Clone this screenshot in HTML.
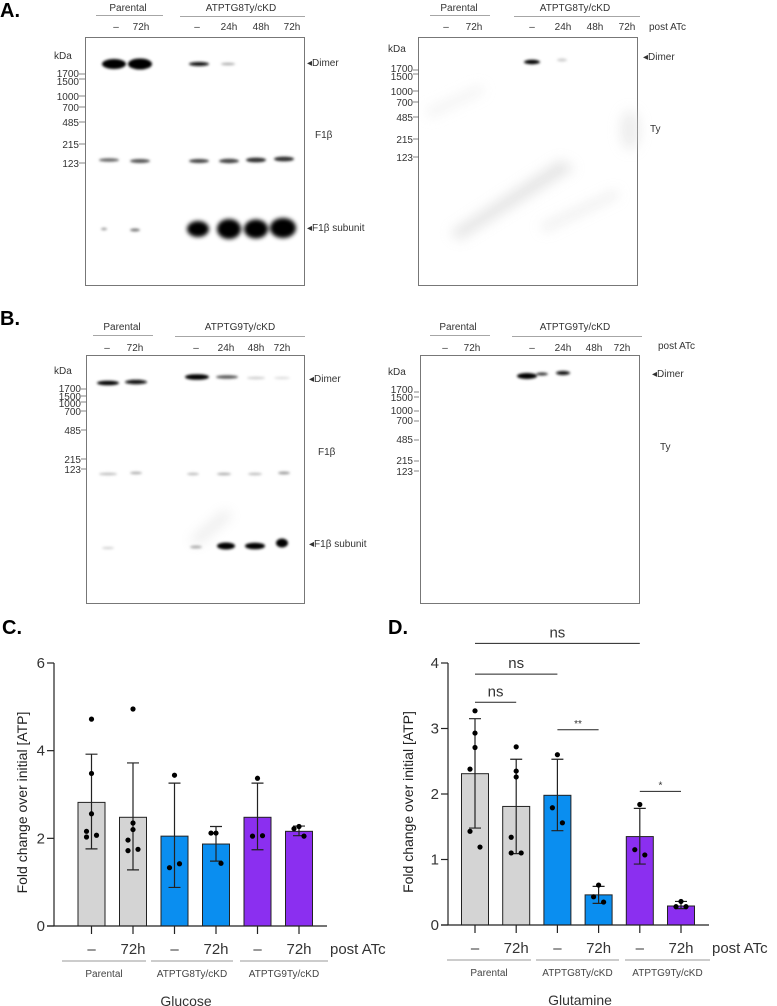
<!DOCTYPE html>
<html><head><meta charset="utf-8">
<style>
html,body{margin:0;padding:0;background:#fff;}
svg{display:block;font-family:"Liberation Sans",Arial,sans-serif;}
.t{font-size:10px;fill:#333;}
.k{font-size:10px;fill:#333;text-anchor:end;}
.pl{font-size:20px;font-weight:bold;fill:#000;}
</style></head>
<body>
<svg id="fig" width="777" height="1006" viewBox="0 0 777 1006" xmlns="http://www.w3.org/2000/svg">
<defs>
<filter id="b1" x="-50%" y="-100%" width="200%" height="300%"><feGaussianBlur stdDeviation="1.2"/></filter>
<filter id="b2" x="-50%" y="-100%" width="200%" height="300%"><feGaussianBlur stdDeviation="2"/></filter>
<filter id="b6" x="-50%" y="-50%" width="200%" height="200%"><feGaussianBlur stdDeviation="6"/></filter>
</defs>

<!-- Panel labels -->
<text class="pl" x="0" y="17">A.</text>
<text class="pl" x="0" y="325">B.</text>
<text class="pl" x="2" y="634">C.</text>
<text class="pl" x="388" y="634">D.</text>

<!-- ===== Panel A left blot ===== -->
<g>
<text class="t" x="128" y="11" text-anchor="middle">Parental</text>
<line x1="96" y1="15.5" x2="163" y2="15.5" stroke="#888" stroke-width="0.8"/>
<text class="t" x="241" y="11" text-anchor="middle">ATPTG8Ty/cKD</text>
<line x1="180" y1="16.5" x2="305" y2="16.5" stroke="#888" stroke-width="0.8"/>
<g class="t" text-anchor="middle"><text x="116" y="30">–</text><text x="141" y="30">72h</text><text x="197" y="30">–</text><text x="229" y="30">24h</text><text x="261" y="30">48h</text><text x="292" y="30">72h</text></g>
<rect x="85.5" y="37.5" width="219" height="248" fill="#fff" stroke="#777" stroke-width="1"/>
<text class="t" x="54" y="59">kDa</text>
<g class="k"><text x="79" y="77">1700</text><text x="79" y="85">1500</text><text x="79" y="100">1000</text><text x="79" y="111">700</text><text x="79" y="126">485</text><text x="79" y="148">215</text><text x="79" y="167">123</text></g>
<g stroke="#666" stroke-width="0.8"><line x1="79" y1="74" x2="85" y2="74"/><line x1="79" y1="79" x2="85" y2="79"/><line x1="79" y1="96" x2="85" y2="96"/><line x1="79" y1="107" x2="85" y2="107"/><line x1="79" y1="122" x2="85" y2="122"/><line x1="79" y1="144" x2="85" y2="144"/><line x1="79" y1="163" x2="85" y2="163"/></g>
<g filter="url(#b1)">
<ellipse cx="114" cy="64" rx="12" ry="5" fill="#000"/>
<ellipse cx="140" cy="64" rx="12" ry="5.5" fill="#000"/>
<ellipse cx="199" cy="64" rx="10" ry="2" fill="#111"/>
<ellipse cx="228" cy="64" rx="7" ry="1.3" fill="#aaa"/>
<ellipse cx="109" cy="160" rx="10" ry="1.8" fill="#666"/>
<ellipse cx="140" cy="161" rx="10" ry="2" fill="#555"/>
<ellipse cx="199" cy="161" rx="10" ry="2" fill="#444"/>
<ellipse cx="229" cy="161" rx="10" ry="2.2" fill="#444"/>
<ellipse cx="256" cy="160" rx="10" ry="2.4" fill="#333"/>
<ellipse cx="284" cy="159" rx="10" ry="2.4" fill="#333"/>
<ellipse cx="104" cy="229" rx="3" ry="1.2" fill="#999"/>
<ellipse cx="135" cy="230" rx="5" ry="1.5" fill="#777"/>
</g>
<g filter="url(#b2)">
<ellipse cx="198" cy="229" rx="11" ry="8" fill="#000"/>
<ellipse cx="229" cy="229" rx="12" ry="10" fill="#000"/>
<ellipse cx="256" cy="229" rx="12" ry="9.5" fill="#000"/>
<ellipse cx="283" cy="228" rx="13" ry="10" fill="#000"/>
</g>
<text class="t" x="307" y="66" font-size="11">◂Dimer</text>
<text class="t" x="315" y="138" font-size="11">F1β</text>
<text class="t" x="307" y="231" font-size="11">◂F1β subunit</text>
</g>

<!-- ===== Panel A right blot ===== -->
<g>
<text class="t" x="459" y="11" text-anchor="middle">Parental</text>
<line x1="430" y1="15.5" x2="490" y2="15.5" stroke="#888" stroke-width="0.8"/>
<text class="t" x="575" y="11" text-anchor="middle">ATPTG8Ty/cKD</text>
<line x1="514" y1="16.5" x2="640" y2="16.5" stroke="#888" stroke-width="0.8"/>
<g class="t" text-anchor="middle"><text x="446" y="30">–</text><text x="474" y="30">72h</text><text x="532" y="30">–</text><text x="563" y="30">24h</text><text x="595" y="30">48h</text><text x="627" y="30">72h</text></g>
<text class="t" x="649" y="30">post ATc</text>
<rect x="418.5" y="37.5" width="219" height="248" fill="#fff" stroke="#777" stroke-width="1"/>
<g filter="url(#b6)" opacity="0.5">
<path d="M450 232 L560 160 L575 168 L460 240 Z" fill="#ccc"/>
<path d="M540 225 L615 190 L620 196 L545 232 Z" fill="#ddd"/>
<path d="M425 110 L480 85 L485 92 L430 118 Z" fill="#e6e6e6"/>
<ellipse cx="630" cy="130" rx="10" ry="20" fill="#ddd"/>
</g>
<text class="t" x="388" y="52">kDa</text>
<g class="k"><text x="413" y="72">1700</text><text x="413" y="80">1500</text><text x="413" y="95">1000</text><text x="413" y="106">700</text><text x="413" y="121">485</text><text x="413" y="143">215</text><text x="413" y="161">123</text></g>
<g stroke="#666" stroke-width="0.8"><line x1="413" y1="70" x2="419" y2="70"/><line x1="413" y1="74" x2="419" y2="74"/><line x1="413" y1="91" x2="419" y2="91"/><line x1="413" y1="102" x2="419" y2="102"/><line x1="413" y1="117" x2="419" y2="117"/><line x1="413" y1="139" x2="419" y2="139"/><line x1="413" y1="157" x2="419" y2="157"/></g>
<g filter="url(#b1)"><ellipse cx="532" cy="62" rx="8" ry="2.2" fill="#000"/><ellipse cx="562" cy="60" rx="5" ry="1.5" fill="#ccc"/></g>
<text class="t" x="643" y="60" font-size="11">◂Dimer</text>
<text class="t" x="650" y="132" font-size="11">Ty</text>
</g>

<!-- ===== Panel B left blot ===== -->
<g>
<text class="t" x="122" y="330" text-anchor="middle">Parental</text>
<line x1="93" y1="335.5" x2="153" y2="335.5" stroke="#888" stroke-width="0.8"/>
<text class="t" x="240" y="330" text-anchor="middle">ATPTG9Ty/cKD</text>
<line x1="175" y1="336.5" x2="305" y2="336.5" stroke="#888" stroke-width="0.8"/>
<g class="t" text-anchor="middle"><text x="107" y="351">–</text><text x="135" y="351">72h</text><text x="196" y="351">–</text><text x="226" y="351">24h</text><text x="256" y="351">48h</text><text x="282" y="351">72h</text></g>
<rect x="86.5" y="355.5" width="218" height="248" fill="#fff" stroke="#777" stroke-width="1"/>
<text class="t" x="54" y="374">kDa</text>
<g class="k"><text x="81" y="392">1700</text><text x="81" y="400">1500</text><text x="81" y="407">1000</text><text x="81" y="415">700</text><text x="81" y="434">485</text><text x="81" y="463">215</text><text x="81" y="473">123</text></g>
<g stroke="#666" stroke-width="0.8"><line x1="81" y1="389" x2="86" y2="389"/><line x1="81" y1="396" x2="86" y2="396"/><line x1="81" y1="402" x2="86" y2="402"/><line x1="81" y1="411" x2="86" y2="411"/><line x1="81" y1="430" x2="86" y2="430"/><line x1="81" y1="459" x2="86" y2="459"/><line x1="81" y1="469" x2="86" y2="469"/></g>
<g filter="url(#b1)">
<ellipse cx="108" cy="383" rx="11" ry="2.3" fill="#000"/>
<ellipse cx="136" cy="382" rx="11" ry="2.2" fill="#111"/>
<ellipse cx="197" cy="377" rx="12" ry="2.8" fill="#000"/>
<ellipse cx="227" cy="377" rx="11" ry="1.8" fill="#555"/>
<ellipse cx="256" cy="378" rx="9" ry="1.2" fill="#ccc"/>
<ellipse cx="282" cy="378" rx="8" ry="1.2" fill="#ddd"/>
<ellipse cx="108" cy="474" rx="9" ry="1.3" fill="#bbb"/>
<ellipse cx="136" cy="473" rx="6" ry="1.3" fill="#aaa"/>
<ellipse cx="193" cy="474" rx="6" ry="1.3" fill="#bbb"/>
<ellipse cx="224" cy="474" rx="7" ry="1.3" fill="#aaa"/>
<ellipse cx="255" cy="474" rx="7" ry="1.2" fill="#bbb"/>
<ellipse cx="284" cy="473" rx="6" ry="1.4" fill="#999"/>
<ellipse cx="108" cy="548" rx="6" ry="1" fill="#ccc"/>
<ellipse cx="196" cy="547" rx="6" ry="1.5" fill="#aaa"/>
</g>
<g filter="url(#b1)">
<ellipse cx="226" cy="546" rx="9" ry="3.5" fill="#000"/>
<ellipse cx="255" cy="546" rx="10" ry="3.3" fill="#000"/>
<ellipse cx="282" cy="543" rx="6" ry="4.5" fill="#000"/>
</g>
<g filter="url(#b6)" opacity="0.4"><path d="M190 540 L225 510 L232 516 L198 545 Z" fill="#ccc"/></g>
<text class="t" x="309" y="382" font-size="11">◂Dimer</text>
<text class="t" x="318" y="455" font-size="11">F1β</text>
<text class="t" x="309" y="547" font-size="11">◂F1β subunit</text>
</g>

<!-- ===== Panel B right blot ===== -->
<g>
<text class="t" x="458" y="330" text-anchor="middle">Parental</text>
<line x1="430" y1="335.5" x2="490" y2="335.5" stroke="#888" stroke-width="0.8"/>
<text class="t" x="575" y="330" text-anchor="middle">ATPTG9Ty/cKD</text>
<line x1="512" y1="336.5" x2="642" y2="336.5" stroke="#888" stroke-width="0.8"/>
<g class="t" text-anchor="middle"><text x="445" y="351">–</text><text x="472" y="351">72h</text><text x="532" y="351">–</text><text x="563" y="351">24h</text><text x="594" y="351">48h</text><text x="622" y="351">72h</text></g>
<text class="t" x="658" y="349">post ATc</text>
<rect x="420.5" y="355.5" width="219" height="248" fill="#fff" stroke="#777" stroke-width="1"/>
<text class="t" x="388" y="375">kDa</text>
<g class="k"><text x="413" y="393">1700</text><text x="413" y="401">1500</text><text x="413" y="414">1000</text><text x="413" y="424">700</text><text x="413" y="443">485</text><text x="413" y="464">215</text><text x="413" y="475">123</text></g>
<g stroke="#666" stroke-width="0.8"><line x1="414" y1="392" x2="419" y2="392"/><line x1="414" y1="397" x2="419" y2="397"/><line x1="414" y1="411" x2="419" y2="411"/><line x1="414" y1="421" x2="419" y2="421"/><line x1="414" y1="440" x2="419" y2="440"/><line x1="414" y1="461" x2="419" y2="461"/><line x1="414" y1="471" x2="419" y2="471"/></g>
<g filter="url(#b1)"><ellipse cx="527" cy="376" rx="10" ry="3" fill="#000"/><ellipse cx="542" cy="374" rx="6" ry="1.5" fill="#333"/><ellipse cx="563" cy="373" rx="7" ry="2" fill="#111"/></g>
<text class="t" x="652" y="377" font-size="11">◂Dimer</text>
<text class="t" x="660" y="450" font-size="11">Ty</text>
</g>

<g id="chartC"></g>
<g id="chartD"></g>
</svg>

<script>
// ---- Panel C data (Glucose) ----
var cCategories = ["Parental –", "Parental 72h", "ATPTG8Ty/cKD –", "ATPTG8Ty/cKD 72h", "ATPTG9Ty/cKD –", "ATPTG9Ty/cKD 72h"];
var cMeans = [2.82, 2.48, 2.05, 1.87, 2.48, 2.16];
var cErrHi = [3.92, 3.72, 3.26, 2.27, 3.26, 2.28];
var cErrLo = [1.76, 1.28, 0.88, 1.48, 1.74, 2.06];
var cPoints = [[4.72, 3.48, 2.56, 2.16, 2.03, 2.07], [4.95, 2.35, 2.2, 1.96, 1.72, 1.75], [3.44, 1.33, 1.42], [2.12, 2.12, 1.43], [3.37, 2.05, 2.06], [2.27, 2.22, 2.05]];
var cTicks = [0, 2, 4, 6];

// ---- Panel D data (Glutamine) ----
var dCategories = ["Parental –", "Parental 72h", "ATPTG8Ty/cKD –", "ATPTG8Ty/cKD 72h", "ATPTG9Ty/cKD –", "ATPTG9Ty/cKD 72h"];
var dMeans = [2.31, 1.81, 1.98, 0.46, 1.35, 0.29];
var dErrHi = [3.15, 2.53, 2.53, 0.59, 1.78, 0.36];
var dErrLo = [1.48, 1.09, 1.44, 0.33, 0.93, 0.25];
var dPoints = [[3.27, 2.93, 2.71, 2.38, 1.43, 1.19], [2.72, 2.35, 2.26, 1.34, 1.1, 1.1], [2.6, 1.79, 1.56], [0.61, 0.43, 0.35], [1.84, 1.15, 1.07], [0.36, 0.28, 0.28]];
var dTicks = [0, 1, 2, 3, 4];
var dSigFrom = [0, 0, 0, 2, 4];
var dSigTo = [1, 2, 4, 3, 5];
var dSigLabel = ["ns", "ns", "ns", "**", "*"];
var dSigLevel = [3.4, 3.83, 4.3, 2.98, 2.04];

var barLabels = ["–", "72h", "–", "72h", "–", "72h"];
var groupNames = ["Parental", "ATPTG8Ty/cKD", "ATPTG9Ty/cKD"];
var colors = ["#d4d4d4", "#d4d4d4", "#0a8ef0", "#0a8ef0", "#8b2ff0", "#8b2ff0"];
var NS = "http://www.w3.org/2000/svg";

function mk(parent, tag, attrs, txt) {
  var e = document.createElementNS(NS, tag);
  for (var k in attrs) e.setAttribute(k, attrs[k]);
  if (txt !== undefined) e.textContent = txt;
  parent.appendChild(e);
  return e;
}

function drawChart(g, cfg) {
  var y = function (v) { return cfg.y0 - (v / cfg.ymax) * (cfg.y0 - cfg.ytop); };
  var n = cfg.means.length;
  var x = function (i) { return cfg.xStart + i * cfg.step; };
  var bw = 27;
  // y axis
  var ax = mk(g, "line", {x1: cfg.axX, y1: cfg.ytop, x2: cfg.axX, y2: cfg.y0, stroke: "#222", "stroke-width": 1.2});
  
  
  cfg.ticks.forEach(function (t) {
    var tk = mk(g, "line", {x1: cfg.axX - 7, y1: y(t), x2: cfg.axX, y2: y(t), stroke: "#222", "stroke-width": 1.2});
    
    
    var tl = mk(g, "text", {x: cfg.axX - 9, y: y(t) + 5, "text-anchor": "end", "font-size": 15, fill: "#333"}, String(t));
    
    
  });
  var yt = mk(g, "text", {x: 0, y: 0, transform: "translate(" + cfg.titleX + "," + ((cfg.ytop + cfg.y0) / 2 + 8) + ") rotate(-90)", "text-anchor": "middle", "font-size": 14, fill: "#222"}, "Fold change over initial [ATP]");
  
  
  // bars
  for (var i = 0; i < n; i++) {
    var cx = x(i);
    var b = mk(g, "rect", {x: cx - bw / 2, y: y(cfg.means[i]), width: bw, height: cfg.y0 - y(cfg.means[i]), fill: colors[i], stroke: "#222", "stroke-width": 1});
    
    
    var eb = mk(g, "path", {d: "M" + cx + "," + y(cfg.hi[i]) + "V" + y(cfg.lo[i]) + "M" + (cx - 6) + "," + y(cfg.hi[i]) + "H" + (cx + 6) + "M" + (cx - 6) + "," + y(cfg.lo[i]) + "H" + (cx + 6), stroke: "#222", "stroke-width": 1.2, fill: "none"});
    
    
    var pts = cfg.pts[i];
    for (var j = 0; j < pts.length; j++) {
      var off = pts.length > 3 ? [0, 0, 0, -5, -5, 5][j] : [0, -5, 5][j];
      var d = mk(g, "circle", {cx: cx + off, cy: y(pts[j]), r: 2.6, fill: "#000"});
      
      
    }
    var xt = mk(g, "line", {x1: cx, y1: cfg.y0, x2: cx, y2: cfg.y0 + 8, stroke: "#222", "stroke-width": 1.2});
    
    
    var xl = mk(g, "text", {x: cx, y: cfg.y0 + 28, "text-anchor": "middle", "font-size": 15, fill: "#333"}, barLabels[i]);
    
    
  }
  var xa = mk(g, "line", {x1: cfg.axX - 7, y1: cfg.y0, x2: cfg.axEnd, y2: cfg.y0, stroke: "#222", "stroke-width": 1.2});
  
  
  var pa = mk(g, "text", {x: cfg.axEnd + 3, y: cfg.y0 + 28, "font-size": 15, fill: "#333"}, "post ATc");
  
  
  for (var k = 0; k < 3; k++) {
    var gl = mk(g, "line", {x1: cfg.groupX[k][0], y1: cfg.y0 + 35, x2: cfg.groupX[k][1], y2: cfg.y0 + 35, stroke: "#999", "stroke-width": 1});
    
    
    var gt = mk(g, "text", {x: (cfg.groupX[k][0] + cfg.groupX[k][1]) / 2, y: cfg.y0 + 51, "text-anchor": "middle", "font-size": 10, fill: "#444"}, groupNames[k]);
    
    
  }
  var ct = mk(g, "text", {x: cfg.condX, y: cfg.y0 + 80, "text-anchor": "middle", "font-size": 14, fill: "#333"}, cfg.cond);
  
  
  return {x: x, y: y};
}

var gc = document.getElementById("chartC");
drawChart(gc, {means: cMeans, hi: cErrHi, lo: cErrLo, pts: cPoints, ticks: cTicks, ymax: 6, y0: 926, ytop: 663, axX: 54, axEnd: 327, xStart: 91.5, step: 41.5, titleX: 27, groupX: [[62, 146], [151, 233], [240, 328]], cond: "Glucose", condX: 186});

var gd = document.getElementById("chartD");
var sd = drawChart(gd, {means: dMeans, hi: dErrHi, lo: dErrLo, pts: dPoints, ticks: dTicks, ymax: 4, y0: 925, ytop: 663, axX: 448, axEnd: 709, xStart: 475, step: 41.2, titleX: 413, groupX: [[447, 531], [536, 619], [625, 710]], cond: "Glutamine", condX: 580});
for (var s = 0; s < dSigLabel.length; s++) {
  var x1 = sd.x(dSigFrom[s]), x2 = sd.x(dSigTo[s]), yy = sd.y(dSigLevel[s]);
  var sl = mk(gd, "line", {x1: x1, y1: yy, x2: x2, y2: yy, stroke: "#222", "stroke-width": 1});
  
  
  var big = dSigLabel[s] === "ns";
  var st = mk(gd, "text", {x: (x1 + x2) / 2, y: yy - (big ? 6 : 3), "text-anchor": "middle", "font-size": big ? 15 : 10, fill: "#333"}, dSigLabel[s]);
  
  
}
</script>
</body></html>
